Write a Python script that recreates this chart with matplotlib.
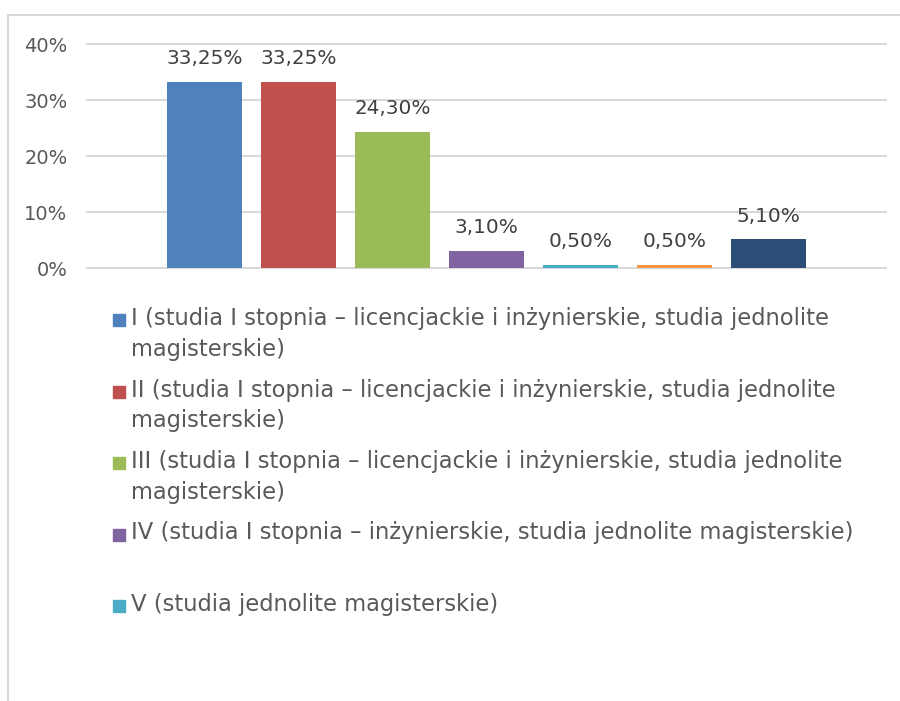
import matplotlib.pyplot as plt
from matplotlib.patches import Rectangle

# dane (udział w %)
years = ["I", "II", "III", "IV", "V", "VI", "VII"]
shares = [33.25, 33.25, 24.30, 3.10, 0.50, 0.50, 5.10]
colors = ["#4F81BD", "#C0504D", "#9BBB59", "#8064A2", "#4BACC6", "#F79646", "#2C4D75"]
yticks = [0, 10, 20, 30, 40]

# widoczne wpisy legendy (reszta ucięta na dole obrazka)
legend_labels = [
    "I (studia I stopnia – licencjackie i inżynierskie, studia jednolite\nmagisterskie)",
    "II (studia I stopnia – licencjackie i inżynierskie, studia jednolite\nmagisterskie)",
    "III (studia I stopnia – licencjackie i inżynierskie, studia jednolite\nmagisterskie)",
    "IV (studia I stopnia – inżynierskie, studia jednolite magisterskie)",
    "V (studia jednolite magisterskie)",
]

W, H = 900, 701
GREY = "#595959"
label_font = ["DejaVu Sans Condensed", "DejaVu Sans"]
legend_font = ["DejaVu Sans Condensed", "DejaVu Sans"]

fig = plt.figure(figsize=(W / 100, H / 100), dpi=100)

# ramka wykresu
fig.add_artist(Rectangle((8 / W, -0.05), 1.1, 1 - 15 / H + 0.05, transform=fig.transFigure,
                         fill=False, edgecolor="#d9d9d9", linewidth=1.5))

ax = fig.add_axes([87 / W, 1 - 268 / H, (886 - 87) / W, (268 - 44) / H])
x = range(len(shares))
bars = ax.bar(x, shares, width=0.8, color=colors, zorder=2)
for xi, v in zip(x, shares):
    ax.annotate(f"{v:.2f}%".replace(".", ","), (xi, v), xytext=(0, 10), textcoords="offset points",
                ha="center", va="bottom", fontsize=14.4, color="#404040", family=label_font)

ax.set_xlim(-1.25, 7.25)
ax.set_ylim(0, 40)
ax.set_yticks(yticks)
ax.set_yticklabels([f"{t}%" for t in yticks], family=label_font, fontsize=14, color=GREY)
ax.set_xticks([])
ax.tick_params(axis="y", length=0, pad=14)
ax.grid(axis="y", color="#d9d9d9", linewidth=1.5, zorder=0)
for gl in ax.get_ygridlines():
    gl.set_clip_on(False)
for s in ax.spines.values():
    s.set_visible(False)

# legenda rysowana ręcznie
first_y = 320
pitch = 71.5
for i, lab in enumerate(legend_labels):
    yc = first_y + i * pitch
    fig.add_artist(Rectangle((113 / W, 1 - (yc + 6) / H), 12 / W, 12 / H,
                             transform=fig.transFigure, color=colors[i]))
    fig.text(131 / W, 1 - (yc - 13) / H, lab, ha="left", va="top", fontsize=16.3,
             color=GREY, family=legend_font, linespacing=1.42)

fig.savefig("out.png", dpi=100)
